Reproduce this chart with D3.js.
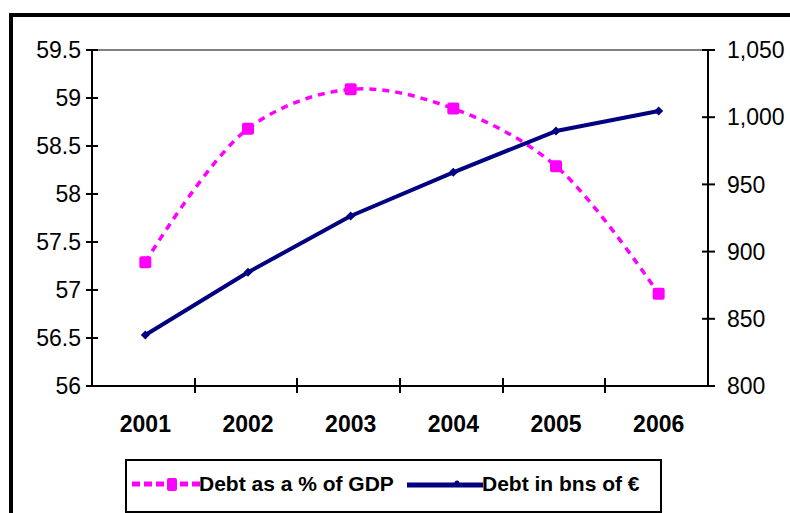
<!DOCTYPE html>
<html><head><meta charset="utf-8">
<script src="https://cdn.jsdelivr.net/npm/d3@7"></script>
<style>body{margin:0;background:#fff;overflow:hidden}text{font-family:"Liberation Sans",Arial,sans-serif}</style>
</head><body><svg id="c" width="790" height="513"></svg>
<script>
const years = ["2001","2002","2003","2004","2005","2006"];
const debtPctGDP = [57.29, 58.68, 59.09, 58.89, 58.29, 56.96];
const debtBns = [838, 884.6, 926.5, 959, 989.7, 1004.6];
const leftTicks = [56, 56.5, 57, 57.5, 58, 58.5, 59, 59.5];
const rightTicks = [800, 850, 900, 950, 1000, 1050];
const seriesNames = ["Debt as a % of GDP", "Debt in bns of €"];

const svg = d3.select("#c");
const L = 92, R = 708, T = 50, B = 386;
const x = d3.scaleBand().domain(years).range([L + 2, R + 2]);
const yL = d3.scaleLinear().domain([56, 59.5]).range([B, T]);
const yR = d3.scaleLinear().domain([800, 1050]).range([B, T]);

// outer frame
svg.append("rect").attr("x", 11).attr("y", 15).attr("width", 900).attr("height", 600)
  .attr("fill", "none").attr("stroke", "#000").attr("stroke-width", 4);

// top gridline
svg.append("line").attr("x1", L).attr("x2", R).attr("y1", yL(59.5)).attr("y2", yL(59.5))
  .attr("stroke", "#808080").attr("stroke-width", 2);

// left axis
const gL = svg.append("g").attr("transform", `translate(${L},0)`)
  .call(d3.axisLeft(yL).offset(0).tickValues(leftTicks).tickFormat(d => d3.format("")(d)).tickSize(6).tickSizeOuter(0));
gL.selectAll(".tick line").attr("x2", -6).attr("x1", 6);
// right axis
const gR = svg.append("g").attr("transform", `translate(${R},0)`)
  .call(d3.axisRight(yR).offset(0).tickValues(rightTicks).tickFormat(d3.format(",")).tickSize(6).tickSizeOuter(0));
gR.selectAll(".tick line").attr("x1", -6).attr("x2", 7);
// bottom axis
const gB = svg.append("g").attr("transform", `translate(0,${B})`)
  .call(d3.axisBottom(x).offset(0).tickSize(0).tickSizeOuter(0));
const bounds = years.slice(1).map(d => Math.round(x(d) - 2));
gB.selectAll(".bt").data(bounds).enter().append("line")
  .attr("x1", d => d).attr("x2", d => d).attr("y1", -8).attr("y2", 7).attr("stroke", "#000").attr("stroke-width", 2);

[gL, gR, gB].forEach(g => {
  g.select(".domain").attr("stroke", "#000").attr("stroke-width", 2);
  g.selectAll(".tick line").attr("stroke", "#000").attr("stroke-width", 2);
  g.attr("font-size", null).attr("font-family", null);
});
gB.select(".domain").attr("d", `M${L},0H${R}`);
gL.selectAll(".tick text").attr("x", -11).attr("dy", "0.36em").style("font-size", "23px").attr("fill", "#000");
gR.selectAll(".tick text").attr("x", 19).attr("dy", "0.36em").style("font-size", "23px").attr("fill", "#000");
gB.selectAll(".tick text").attr("y", 46).attr("dy", 0).style("font-size", "23px").style("font-weight", "bold").attr("fill", "#000");

// pink smoothed dashed line
const pinkLine = d3.line().x((d, i) => x(years[i]) + x.bandwidth() / 2).y(d => yL(d)).curve(d3.curveCatmullRom.alpha(0.5));
svg.append("path").datum(debtPctGDP).attr("d", pinkLine).attr("fill", "none")
  .attr("stroke", "#FF00FF").attr("stroke-width", 3.5).attr("stroke-dasharray", "7,6");
// navy line
const navyLine = d3.line().x((d, i) => x(years[i]) + x.bandwidth() / 2).y(d => yR(d));
svg.append("path").datum(debtBns).attr("d", navyLine).attr("fill", "none")
  .attr("stroke", "#000080").attr("stroke-width", 4).attr("stroke-linejoin", "round");
// navy diamonds
svg.selectAll(".dm").data(debtBns).enter().append("path")
  .attr("transform", (d, i) => `translate(${x(years[i]) + x.bandwidth() / 2},${yR(d)})`)
  .attr("d", "M0,-4.5L4.5,0L0,4.5L-4.5,0Z").attr("fill", "#000080");
// pink squares
svg.selectAll(".sq").data(debtPctGDP).enter().append("rect")
  .attr("x", (d, i) => x(years[i]) + x.bandwidth() / 2 - 6).attr("y", d => yL(d) - 6)
  .attr("width", 12).attr("height", 12).attr("rx", 2).attr("fill", "#FF00FF");

// legend
const lg = svg.append("g");
lg.append("rect").attr("x", 126).attr("y", 460).attr("width", 535).attr("height", 52)
  .attr("fill", "#fff").attr("stroke", "#000").attr("stroke-width", 2);
const ly = 484;
lg.append("line").attr("x1", 132).attr("x2", 200).attr("y1", ly).attr("y2", ly)
  .attr("stroke", "#FF00FF").attr("stroke-width", 5).attr("stroke-dasharray", "8,4");
lg.append("rect").attr("x", 167).attr("y", ly - 6).attr("width", 10).attr("height", 13).attr("rx", 2).attr("fill", "#FF00FF");
lg.append("text").attr("x", 199).attr("y", 491).text(seriesNames[0])
  .style("font-size", "21px").style("font-weight", "bold");
lg.append("line").attr("x1", 407).attr("x2", 483).attr("y1", ly + 1).attr("y2", ly + 1)
  .attr("stroke", "#000080").attr("stroke-width", 5);
lg.append("circle").attr("cx", 457).attr("cy", ly - 1).attr("r", 2.5).attr("fill", "#000080");
lg.append("text").attr("x", 482).attr("y", 491).text(seriesNames[1])
  .style("font-size", "21px").style("font-weight", "bold");
</script></body></html>
